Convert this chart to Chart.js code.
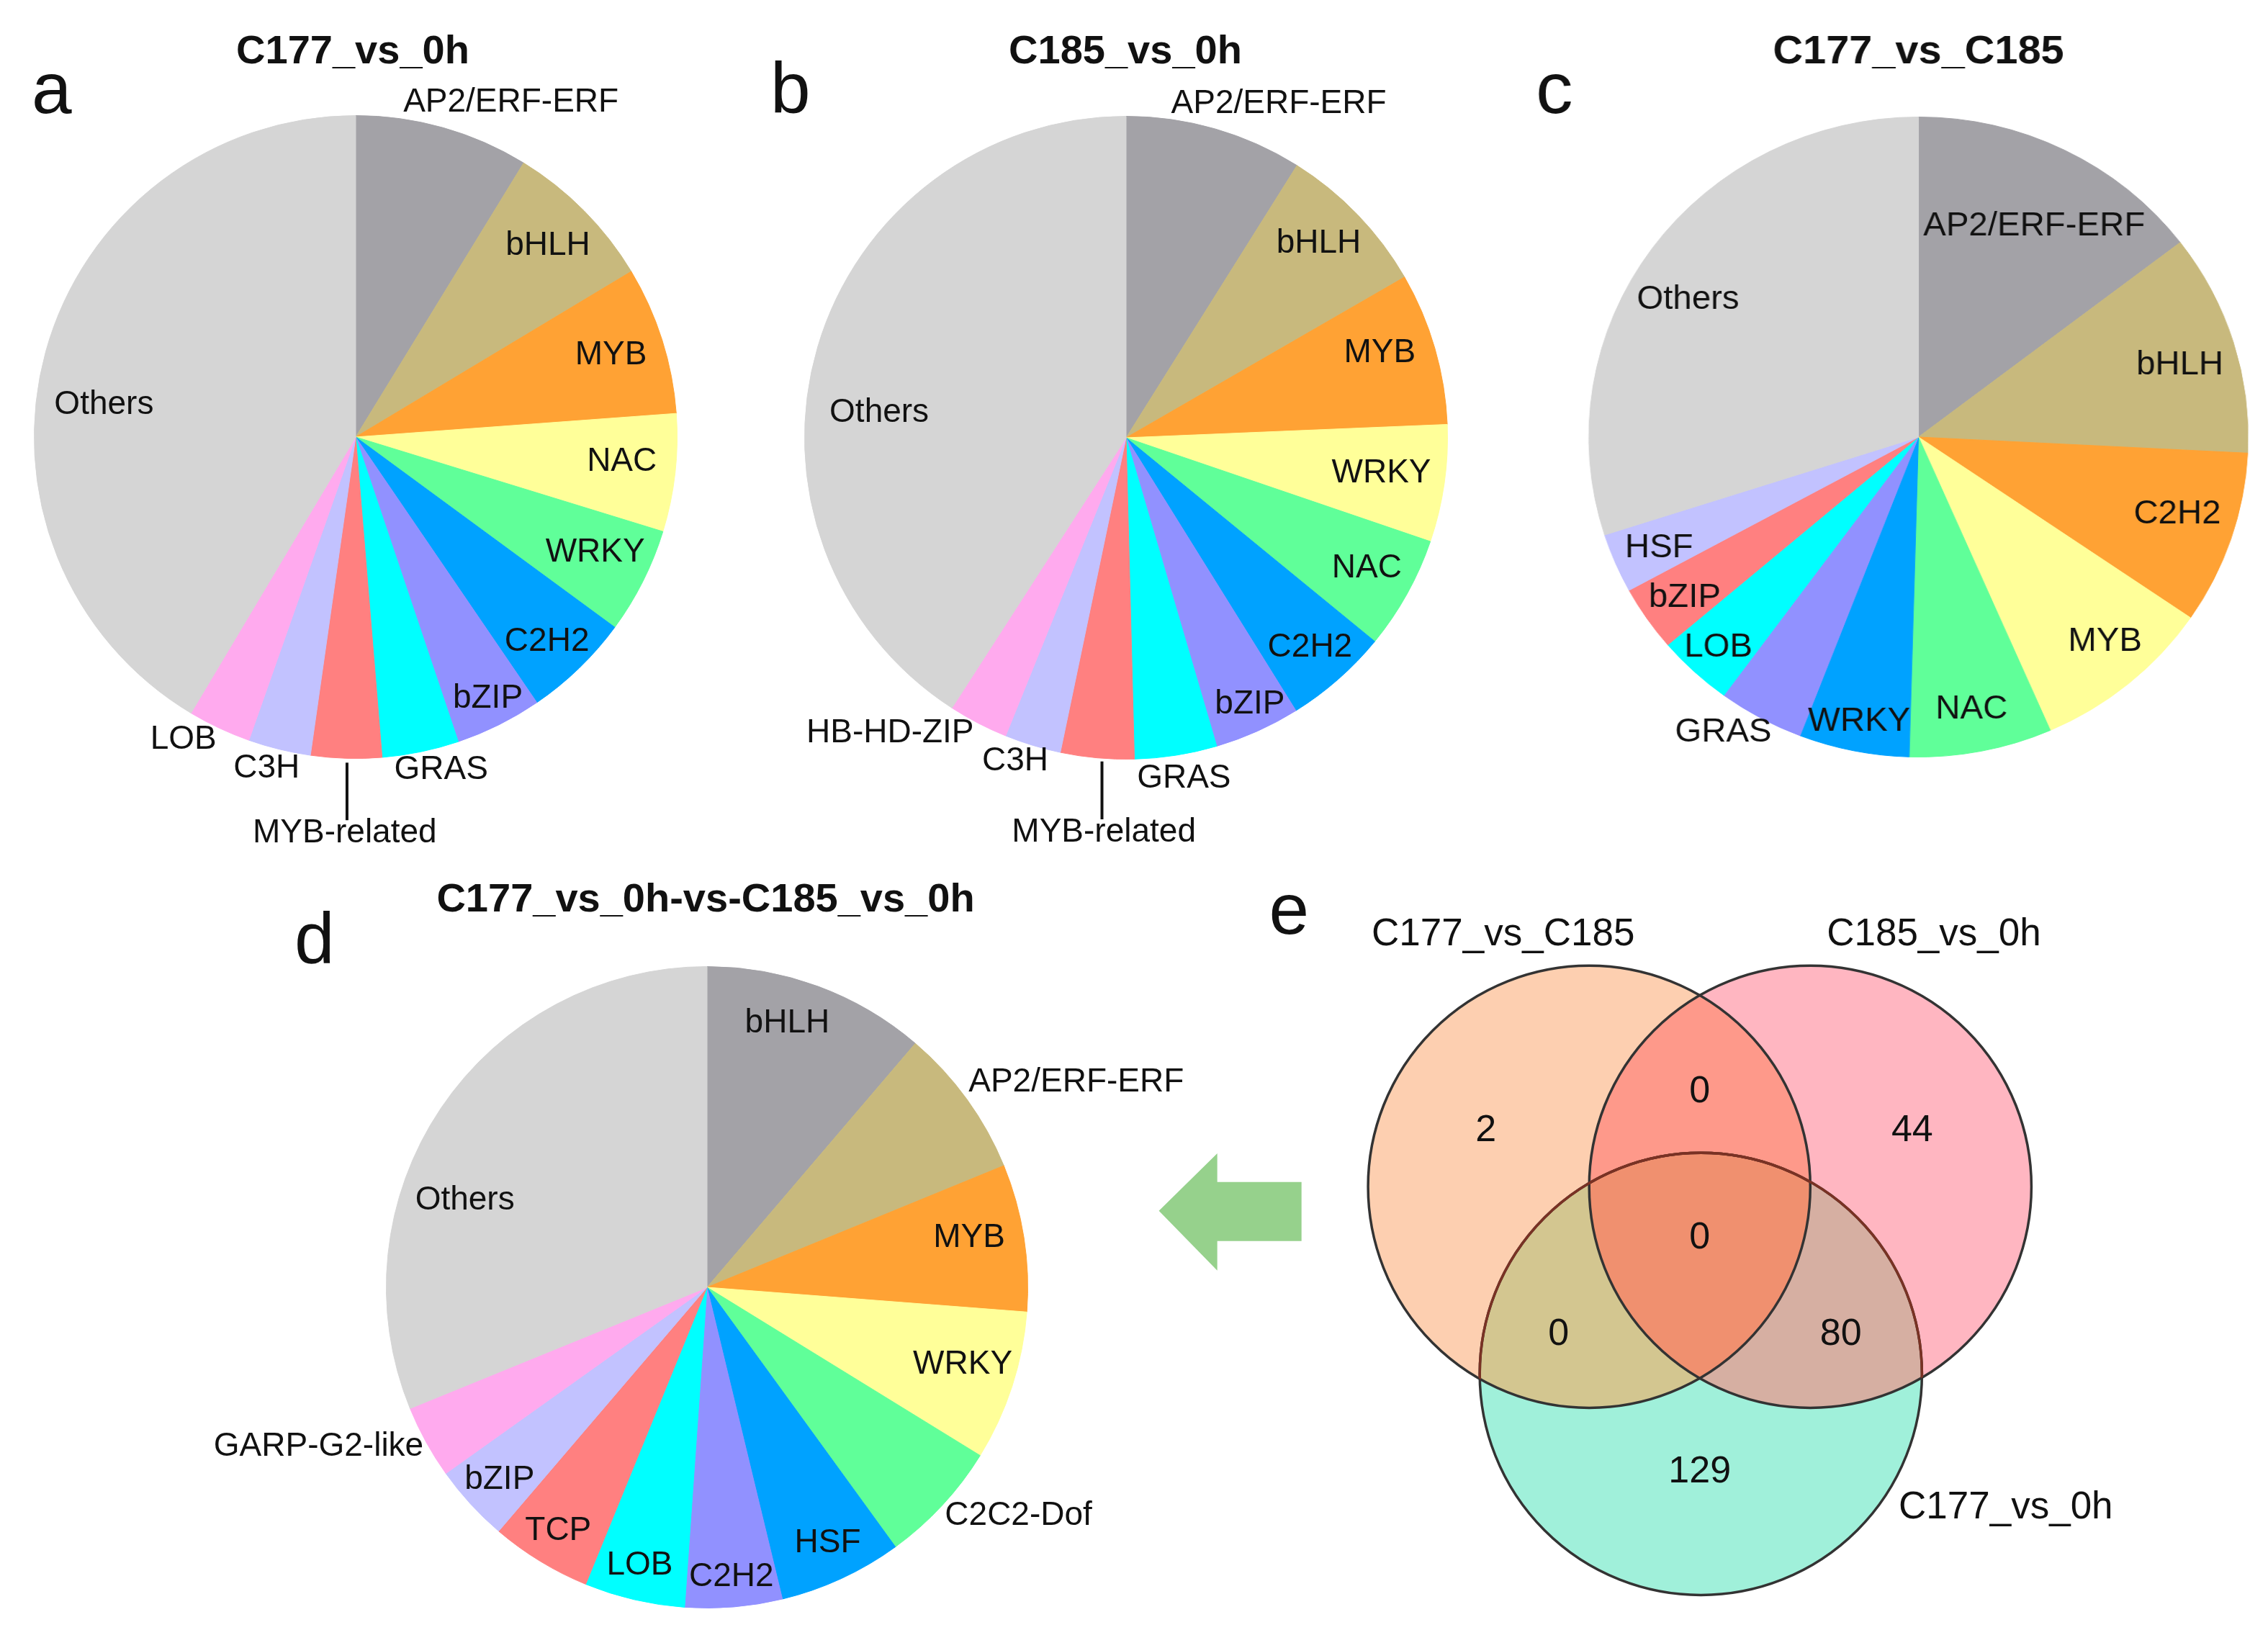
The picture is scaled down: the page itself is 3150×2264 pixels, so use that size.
<!DOCTYPE html>
<html>
<head>
<meta charset="utf-8">
<script src="https://cdn.jsdelivr.net/npm/chart.js@4.4.1/dist/chart.umd.min.js"></script>
<style>
  html, body { margin: 0; padding: 0; background: #fff; }
  body { width: 3150px; height: 2264px; position: relative; overflow: hidden; }
  canvas { position: absolute; }
</style>
</head>
<body>
<canvas id="pieA" width="1050" height="1200" style="left:0px;top:0px"></canvas>
<canvas id="pieB" width="1060" height="1200" style="left:1040px;top:0px"></canvas>
<canvas id="pieC" width="1050" height="1200" style="left:2100px;top:0px;transform:scaleX(1.03);transform-origin:564.5px 50%"></canvas>
<canvas id="pieD" width="1450" height="1084" style="left:250px;top:1180px"></canvas>
<canvas id="venn" width="1600" height="1084" style="left:1550px;top:1180px"></canvas>
<script>
// ---- data (slice shares in % of each pie) ----
const labelsA = ['AP2/ERF-ERF', 'bHLH', 'MYB', 'NAC', 'WRKY', 'C2H2', 'bZIP', 'GRAS', 'MYB-related', 'C3H', 'LOB', 'Others'];
const valuesA = [8.75, 7.64, 7.44, 5.92, 5.33, 5.39, 4.36, 3.86, 3.56, 3.14, 3.17, 41.44];

const labelsB = ['AP2/ERF-ERF', 'bHLH', 'MYB', 'WRKY', 'NAC', 'C2H2', 'bZIP', 'GRAS', 'MYB-related', 'C3H', 'HB-HD-ZIP', 'Others'];
const valuesB = [8.92, 7.75, 7.67, 5.89, 5.69, 5.22, 4.31, 4.14, 3.69, 2.83, 3.0, 40.89];

const labelsC = ['AP2/ERF-ERF', 'bHLH', 'C2H2', 'MYB', 'NAC', 'WRKY', 'GRAS', 'LOB', 'bZIP', 'HSF', 'Others'];
const valuesC = [14.6, 11.2, 8.75, 8.9, 7.0, 5.4, 4.2, 3.7, 3.3, 3.0, 29.95];

const labelsD = ['bHLH', 'AP2/ERF-ERF', 'MYB', 'WRKY', 'C2C2-Dof', 'HSF', 'C2H2', 'LOB', 'TCP', 'bZIP', 'GARP-G2-like', 'Others'];
const valuesD = [11.25, 7.56, 7.42, 7.56, 6.22, 6.22, 4.89, 5.06, 5.08, 3.89, 3.69, 31.17];

const vennSets = ['C177_vs_C185', 'C185_vs_0h', 'C177_vs_0h'];
// regions: only1, only2, only3, 1&2, 1&2&3, 1&3, 2&3
const vennCounts = [2, 44, 129, 0, 0, 0, 80];

// ---- styles / layout ----
const palette = ['#A3A2A7', '#C8B97D', '#FFA234', '#FFFF99', '#60FF99', '#00A2FF',
                 '#9191FF', '#00FFFF', '#FF8080', '#C2C2FF', '#FFAAEE'];
const othersColor = '#D5D5D5';
const FONT = '"Liberation Sans", Arial, sans-serif';

// label spots relative to pie centre, in units of the radius
const spotsA = [[0.483,-1.041],[0.598,-0.596],[0.794,-0.254],[0.828,0.077],[0.745,0.359],[0.595,0.637],
                [0.411,0.813],[0.266,1.036],[-0.034,1.233],[-0.277,1.030],[-0.536,0.941],[-0.783,-0.100]];
const spotsB = [[0.475,-1.039],[0.599,-0.603],[0.789,-0.264],[0.794,0.111],[0.749,0.407],[0.572,0.652],
                [0.385,0.830],[0.180,1.061],[-0.069,1.229],[-0.345,1.007],[-0.734,0.918],[-0.768,-0.077]];
const spotsC = [[0.351,-0.659],[0.793,-0.224],[0.785,0.241],[0.566,0.640],[0.161,0.851],[-0.180,0.889],
                [-0.592,0.924],[-0.607,0.657],[-0.709,0.502],[-0.787,0.347],[-0.699,-0.430]];
const spotsD = [[0.250,-0.822],[1.151,-0.639],[0.817,-0.155],[0.797,0.240],[0.971,0.713],[0.376,0.798],
                [0.076,0.904],[-0.210,0.868],[-0.464,0.760],[-0.647,0.601],[-1.211,0.496],[-0.755,-0.271]];

function padFor(box, cx, cy, r) {
  return {
    left: cx - box.left - r,
    top: cy - box.top - r,
    right: box.left + box.w - cx - r,
    bottom: box.top + box.h - cy - r
  };
}

const pieLabelPlugin = {
  id: 'pieLabels',
  afterDatasetsDraw(chart, args, opts) {
    const arc = chart.getDatasetMeta(0).data[0];
    const cx = arc.x, cy = arc.y, r = arc.outerRadius;
    const ctx = chart.ctx;
    ctx.save();
    ctx.fillStyle = '#111';
    ctx.textAlign = 'center';
    ctx.textBaseline = 'middle';
    ctx.font = '46px ' + FONT;
    chart.data.labels.forEach((lab, i) => {
      const p = opts.spots[i];
      ctx.fillText(lab, cx + p[0] * r, cy + p[1] * r);
    });
    if (opts.leader) {
      const l = opts.leader;
      ctx.strokeStyle = '#111';
      ctx.lineWidth = 4;
      ctx.beginPath();
      ctx.moveTo(cx + l[0] * r, cy + l[1] * r);
      ctx.lineTo(cx + l[0] * r, cy + l[2] * r);
      ctx.stroke();
    }
    ctx.textBaseline = 'alphabetic';
    ctx.font = 'bold 56px ' + FONT;
    ctx.fillText(opts.title, cx + opts.titleAt[0], cy + opts.titleAt[1]);
    ctx.textAlign = 'left';
    ctx.font = '100px ' + FONT;
    ctx.fillText(opts.letter, cx + opts.letterAt[0], cy + opts.letterAt[1]);
    ctx.restore();
  }
};

function makePie(id, labels, values, box, centre, extra) {
  const colors = labels.map((l, i) => i === labels.length - 1 ? othersColor : palette[i]);
  return new Chart(document.getElementById(id), {
    type: 'pie',
    data: {
      labels: labels,
      datasets: [{
        data: values,
        backgroundColor: colors,
        borderColor: colors,
        borderWidth: 1
      }]
    },
    options: {
      responsive: false,
      animation: false,
      events: [],
      layout: { padding: padFor(box, centre[0], centre[1], centre[2]) },
      plugins: {
        legend: { display: false },
        tooltip: { enabled: false },
        pieLabels: extra
      }
    },
    plugins: [pieLabelPlugin]
  });
}

makePie('pieA', labelsA, valuesA, {left: 0, top: 0, w: 1050, h: 1200}, [494, 607, 447], {
  spots: spotsA, leader: [-0.027, 1.013, 1.192],
  title: 'C177_vs_0h', titleAt: [-4, -519], letter: 'a', letterAt: [-450, -450]
});
makePie('pieB', labelsB, valuesB, {left: 1040, top: 0, w: 1060, h: 1200}, [1564, 608, 447], {
  spots: spotsB, leader: [-0.075, 1.007, 1.187],
  title: 'C185_vs_0h', titleAt: [-1, -520], letter: 'b', letterAt: [-494, -451]
});
makePie('pieC', labelsC, valuesC, {left: 2100, top: 0, w: 1050, h: 1200}, [2664.5, 607, 445], {
  spots: spotsC,
  title: 'C177_vs_C185', titleAt: [0, -519], letter: 'c', letterAt: [-516, -450]
});
makePie('pieD', labelsD, valuesD, {left: 250, top: 1180, w: 1450, h: 1084}, [982, 1788, 446], {
  spots: spotsD,
  title: 'C177_vs_0h-vs-C185_vs_0h', titleAt: [-2, -522], letter: 'd', letterAt: [-573, -450]
});

// ---- Venn diagram (units: circle radius = 1) ----
const VENN_W = 1600;
const vennX = [-2.64, 2.57];
const vennY = [-1.72, 1.81];
const unitPx = VENN_W / (vennX[1] - vennX[0]);
const vennCentres = [[-0.5, 0.285], [0.5, 0.285], [0.005, -0.562]];
const vennFill = ['#FDCFB0', '#FFB6C1', '#A0F0DA'];
const vennOverlapFill = { '01': '#FE998A', '02': '#D3C690', '12': '#D6AFA2', '012': '#F0906F' };
const vennCountSpots = [[-0.967, 0.537], [0.961, 0.537], [0, -1.007], [0, 0.713], [0, 0.054], [-0.638, -0.384], [0.638, -0.384]];
const vennLabelSpots = [[-0.889, 1.423], [1.059, 1.423], [1.384, -1.169]];
const arrowShape = [[-2.446, 0.176], [-2.182, 0.436], [-2.182, 0.306], [-1.801, 0.306],
                    [-1.801, 0.039], [-2.182, 0.039], [-2.182, -0.094]];

function vennCircles(chart) {
  const xs = chart.scales.x, ys = chart.scales.y;
  const r = xs.getPixelForValue(1) - xs.getPixelForValue(0);
  return chart.data.datasets[0].data.map(d => ({x: xs.getPixelForValue(d.x), y: ys.getPixelForValue(d.y), r: r}));
}

const vennPlugin = {
  id: 'vennRegions',
  beforeDatasetsDraw(chart) {
    const ctx = chart.ctx;
    const circ = vennCircles(chart);
    const paint = (ids, color) => {
      ctx.save();
      ids.forEach(i => {
        ctx.beginPath();
        ctx.arc(circ[i].x, circ[i].y, circ[i].r, 0, Math.PI * 2);
        ctx.clip();
      });
      ctx.fillStyle = color;
      ctx.fillRect(0, 0, chart.width, chart.height);
      ctx.restore();
    };
    vennFill.forEach((c, i) => paint([i], c));
    Object.keys(vennOverlapFill).forEach(k => paint(k.split('').map(Number), vennOverlapFill[k]));
  },
  afterDatasetsDraw(chart) {
    const ctx = chart.ctx;
    const xs = chart.scales.x, ys = chart.scales.y;
    const px = p => [xs.getPixelForValue(p[0]), ys.getPixelForValue(p[1])];
    const circ = vennCircles(chart);
    // lower circle outline shows tinted where the upper circles overlap it
    [0, 1].forEach(i => {
      ctx.save();
      ctx.beginPath();
      ctx.arc(circ[i].x, circ[i].y, circ[i].r, 0, Math.PI * 2);
      ctx.clip();
      ctx.strokeStyle = '#7A3224';
      ctx.lineWidth = 3.5;
      ctx.beginPath();
      ctx.arc(circ[2].x, circ[2].y, circ[2].r, 0, Math.PI * 2);
      ctx.stroke();
      ctx.restore();
    });
    ctx.save();
    ctx.fillStyle = '#111';
    ctx.textAlign = 'center';
    ctx.textBaseline = 'middle';
    ctx.font = '52px ' + FONT;
    vennCounts.forEach((v, i) => {
      const p = px(vennCountSpots[i]);
      ctx.fillText(String(v), p[0], p[1]);
    });
    ctx.font = '53px ' + FONT;
    vennSets.forEach((s, i) => {
      const p = px(vennLabelSpots[i]);
      ctx.fillText(s, p[0], p[1]);
    });
    ctx.textAlign = 'left';
    ctx.textBaseline = 'alphabetic';
    ctx.font = '100px ' + FONT;
    const e = px([-1.948, 1.43]);
    ctx.fillText('e', e[0], e[1]);
    // arrow
    ctx.fillStyle = '#96D18C';
    ctx.beginPath();
    arrowShape.forEach((p, i) => {
      const q = px(p);
      if (i === 0) ctx.moveTo(q[0], q[1]); else ctx.lineTo(q[0], q[1]);
    });
    ctx.closePath();
    ctx.fill();
    ctx.restore();
  }
};

new Chart(document.getElementById('venn'), {
  type: 'bubble',
  data: {
    labels: vennSets,
    datasets: [{
      data: vennCentres.map(c => ({x: c[0], y: c[1], r: unitPx})),
      backgroundColor: 'rgba(0,0,0,0)',
      borderColor: '#333333',
      borderWidth: 3.5,
      clip: false
    }]
  },
  options: {
    responsive: false,
    animation: false,
    events: [],
    layout: { padding: 0, autoPadding: false },
    scales: {
      x: { type: 'linear', min: vennX[0], max: vennX[1], display: false },
      y: { type: 'linear', min: vennY[0], max: vennY[1], display: false }
    },
    plugins: {
      legend: { display: false },
      tooltip: { enabled: false }
    }
  },
  plugins: [vennPlugin]
});
</script>
</body>
</html>
